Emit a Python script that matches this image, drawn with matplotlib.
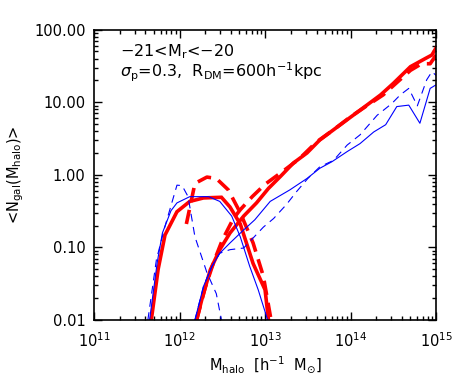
import numpy as np
import matplotlib
matplotlib.use("Agg")
import matplotlib.pyplot as plt
from matplotlib.ticker import FixedLocator, FormatStrFormatter, LogLocator, NullFormatter

plt.rcParams['font.family'] = ['DejaVu Sans']
plt.rcParams['mathtext.fontset'] = 'dejavusans'

# Halo masses are kept as log10(M / h^-1 Msun), occupations as <N_gal>

# red thick solid: central galaxies
red_cen_logm = [11.67, 11.75, 11.83, 11.97, 12.12, 12.28, 12.49, 12.59, 12.71, 12.86, 13.00, 13.04]
red_cen_n = [0.010, 0.050, 0.148, 0.31, 0.43, 0.48, 0.49, 0.36, 0.21, 0.060, 0.026, 0.010]
# red thick dashed: central galaxies
red_cen_d_logm = [12.08, 12.18, 12.32, 12.43, 12.57, 12.71, 12.86, 12.98, 13.07]
red_cen_d_n = [0.21, 0.76, 0.93, 0.89, 0.62, 0.30, 0.115, 0.040, 0.010]
# blue thin solid: central galaxies
blue_cen_logm = [11.65, 11.74, 11.80, 11.90, 11.97, 12.12, 12.34, 12.47, 12.61, 12.71, 12.82, 12.92, 13.03]
blue_cen_n = [0.010, 0.063, 0.158, 0.32, 0.41, 0.50, 0.50, 0.43, 0.27, 0.14, 0.055, 0.026, 0.010]
# blue thin dashed: central galaxies
blue_cen_d_logm = [11.63, 11.73, 11.83, 11.97, 12.03, 12.10, 12.18, 12.32, 12.43, 12.49]
blue_cen_d_n = [0.010, 0.068, 0.195, 0.72, 0.71, 0.50, 0.14, 0.045, 0.023, 0.010]

# red thick solid: satellites
red_sat_logm = [12.20, 12.26, 12.36, 12.47, 12.59, 12.75, 12.90, 13.04, 13.18, 13.33, 13.49,
                13.64, 13.80, 13.96, 14.11, 14.35, 14.50, 14.70, 14.87, 14.95, 15.0]
red_sat_n = [0.010, 0.019, 0.049, 0.093, 0.158, 0.27, 0.41, 0.65, 0.95, 1.45, 2.00,
             3.02, 4.17, 5.75, 7.76, 12.6, 18.2, 30.9, 39.8, 44.7, 56.2]
# red thick dashed: satellites
red_sat_d_logm = [12.20, 12.30, 12.40, 12.50, 12.63, 12.71, 12.85, 13.00, 13.20, 13.40, 13.60,
                  13.80, 14.00, 14.20, 14.38, 14.55, 14.70, 14.83, 14.93, 15.0]
red_sat_d_n = [0.010, 0.028, 0.063, 0.126, 0.25, 0.33, 0.50, 0.74, 1.10, 1.66, 2.82,
               4.17, 6.31, 9.12, 12.6, 19.1, 27.5, 33.9, 33.9, 44.7]
# blue thin solid: satellites
blue_sat_logm = [12.18, 12.28, 12.38, 12.47, 12.59, 12.75, 12.88, 13.06, 13.29, 13.49, 13.64,
                 13.78, 13.96, 14.11, 14.27, 14.41, 14.54, 14.68, 14.81, 14.93, 15.0]
blue_sat_n = [0.010, 0.029, 0.055, 0.083, 0.115, 0.174, 0.24, 0.43, 0.62, 0.89, 1.23,
              1.51, 2.09, 2.69, 3.89, 4.90, 8.71, 9.12, 5.13, 15.5, 17.4]
# blue thin dashed: satellites
blue_sat_d_logm = [12.18, 12.28, 12.38, 12.47, 12.59, 12.75, 12.98, 13.10, 13.25, 13.37, 13.50,
                   13.64, 13.80, 13.96, 14.11, 14.31, 14.48, 14.58, 14.68, 14.78, 14.89, 14.95, 15.0]
blue_sat_d_n = [0.010, 0.029, 0.055, 0.083, 0.093, 0.098, 0.19, 0.25, 0.39, 0.59, 0.89,
                1.29, 1.58, 2.57, 3.55, 6.61, 9.55, 12.6, 15.5, 8.91, 20.4, 26.3, 23.4]

y_ticks = [0.01, 0.1, 1.0, 10.0, 100.0]

fig = plt.figure(figsize=(4.63, 3.80), dpi=100)
ax = fig.add_axes([0.203, 0.158, 0.739, 0.764])

red_solid = dict(color='red', lw=2.6, solid_joinstyle='miter')
red_dash = dict(color='red', lw=2.6, dashes=(4.0, 2.2))
blue_solid = dict(color='blue', lw=0.8)
blue_dash = dict(color='blue', lw=0.8, dashes=(7, 5))

ax.plot(10 ** np.array(red_cen_logm), red_cen_n, **red_solid)
ax.plot(10 ** np.array(red_sat_logm), red_sat_n, **red_solid)
ax.plot(10 ** np.array(red_cen_d_logm), red_cen_d_n, **red_dash)
ax.plot(10 ** np.array(red_sat_d_logm), red_sat_d_n, **red_dash)
ax.plot(10 ** np.array(blue_cen_logm), blue_cen_n, **blue_solid)
ax.plot(10 ** np.array(blue_sat_logm), blue_sat_n, **blue_solid)
ax.plot(10 ** np.array(blue_cen_d_logm), blue_cen_d_n, **blue_dash)
ax.plot(10 ** np.array(blue_sat_d_logm), blue_sat_d_n, **blue_dash)

ax.set_xscale('log')
ax.set_yscale('log')
ax.set_xlim(1e11, 1e15)
ax.set_ylim(0.01, 100)

ax.yaxis.set_major_locator(FixedLocator(y_ticks))
ax.yaxis.set_major_formatter(FormatStrFormatter('%.2f'))
ax.yaxis.set_minor_locator(LogLocator(base=10, subs=np.arange(2, 10), numticks=20))
ax.yaxis.set_minor_formatter(NullFormatter())
ax.xaxis.set_minor_locator(LogLocator(base=10, subs=np.arange(2, 10), numticks=20))
ax.xaxis.set_minor_formatter(NullFormatter())

ax.tick_params(which='both', direction='in', top=True, right=True, width=1.0)
ax.tick_params(which='major', length=6, labelsize=10.5, pad=6)
ax.tick_params(axis='x', which='major', pad=8)
ax.tick_params(which='minor', length=3)
for s in ax.spines.values():
    s.set_linewidth(1.2)

ax.set_xlabel(r'M$_{\rm halo}$  [h$^{-1}$  M$_{\odot}$]', fontsize=10.5, labelpad=3)
ax.set_ylabel(r'<N$_{\rm gal}$(M$_{\rm halo}$)>', fontsize=10.5, labelpad=6)

ax.text(0.076, 0.925, r'$-$21<M$_{\rm r}$<$-$20', transform=ax.transAxes,
        fontsize=11.5, va='center', ha='left')
ax.text(0.076, 0.852, r'$\sigma_{\rm p}$=0.3,  R$_{\rm DM}$=600h$^{-1}$kpc',
        transform=ax.transAxes, fontsize=11.5, va='center', ha='left')

fig.savefig('out.png', dpi=100)
